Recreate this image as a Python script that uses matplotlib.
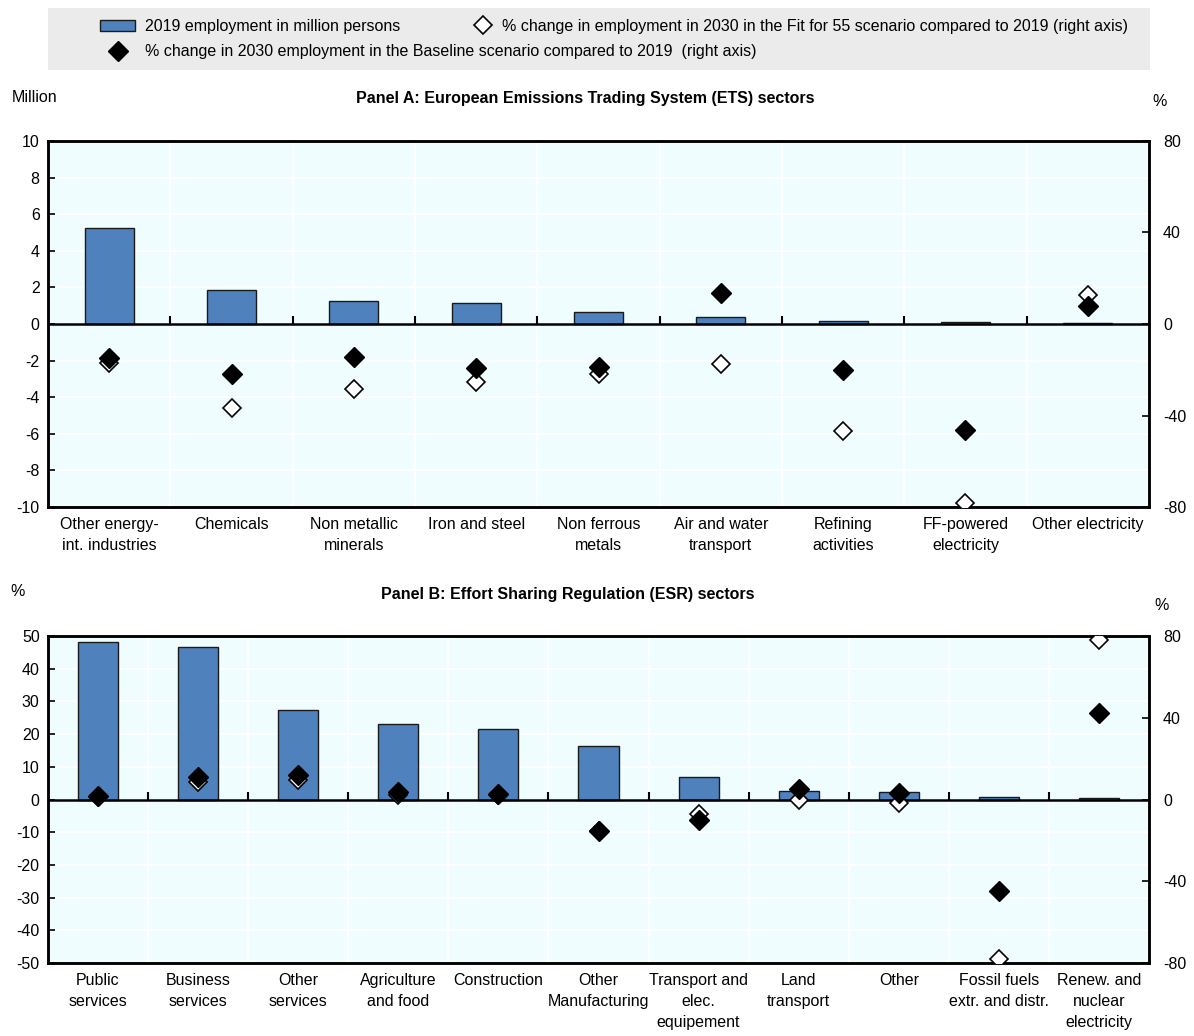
import matplotlib
matplotlib.use('Agg')
import matplotlib.pyplot as plt
from matplotlib.patches import Rectangle, Patch
from matplotlib.lines import Line2D
import numpy as np

# Panel A: ETS sectors
ets_sectors = ["Other energy-\nint. industries", "Chemicals", "Non metallic\nminerals", "Iron and steel",
               "Non ferrous\nmetals", "Air and water\ntransport", "Refining\nactivities",
               "FF-powered\nelectricity", "Other electricity"]
ets_employment = [5.27, 1.86, 1.26, 1.17, 0.64, 0.38, 0.15, 0.11, 0.05]
ets_fit55 = [-17.2, -36.6, -28.3, -25.5, -21.9, -17.5, -46.7, -78.1, 12.7]
ets_baseline = [-14.7, -21.8, -14.3, -19.4, -19.0, 13.7, -20.1, -46.3, 8.0]

# Panel B: ESR sectors
esr_sectors = ["Public\nservices", "Business\nservices", "Other\nservices", "Agriculture\nand food",
               "Construction", "Other\nManufacturing", "Transport and\nelec.\nequipement",
               "Land\ntransport", "Other", "Fossil fuels\nextr. and distr.", "Renew. and\nnuclear\nelectricity"]
esr_employment = [48.2, 46.6, 27.5, 23.1, 21.6, 16.4, 6.8, 2.5, 2.3, 0.9, 0.4]
esr_fit55 = [1.0, 8.8, 9.6, 2.3, 2.3, -15.3, -7.2, -0.2, -1.5, -78.0, 78.0]
esr_baseline = [1.5, 10.9, 12.0, 3.9, 2.6, -15.3, -9.9, 4.9, 3.1, -44.6, 42.3]

plt.rcParams['font.family'] = ['Liberation Sans', 'DejaVu Sans']
plt.rcParams['font.size'] = 11.5
plt.rcParams['axes.unicode_minus'] = False

bar_color = '#4F81BD'
bg_color = '#F0FDFF'
W, H = 1194, 1036
fig = plt.figure(figsize=(W / 100, H / 100), dpi=100)


def fbox(x0, y0, x1, y1):
    return [x0 / W, 1 - y1 / H, (x1 - x0) / W, (y1 - y0) / H]


def draw_panel(rect, labels, emp, fit, base, ylim, yticks, rticks):
    ax = fig.add_axes(rect)
    n = len(labels)
    x = np.arange(n)
    ax.set_facecolor(bg_color)
    ax.bar(x, emp, width=0.4, color=bar_color, edgecolor='#1a1a1a', linewidth=1, zorder=3)
    ax.set_xlim(-0.5, n - 0.5)
    ax.set_ylim(*ylim)
    ax.set_yticks(yticks)
    ax.set_xticks(x)
    ax.set_xticklabels(labels, linespacing=1.5)
    ax.tick_params(axis='x', length=0, pad=7)
    ax.tick_params(axis='y', direction='in', length=5, width=1.2, pad=6)
    for yv in yticks:
        ax.axhline(yv, color='white', linewidth=1.2, zorder=1)
    for b in np.arange(0.5, n - 0.5, 1):
        ax.axvline(b, color='white', linewidth=1.2, zorder=1)
    ax.axhline(0, color='black', linewidth=1.8, zorder=4)
    bounds = np.arange(0.5, n - 0.5, 1)
    ax.plot(bounds, np.zeros(len(bounds)), linestyle='none', marker=2, markersize=6,
            markeredgewidth=1.5, color='black', zorder=4)
    for s in ax.spines.values():
        s.set_linewidth(1.8)
        s.set_color('black')

    ax2 = ax.twinx()
    ax2.set_ylim(-80, 80)
    ax2.set_yticks(rticks)
    ax2.tick_params(axis='y', direction='in', length=5, width=1.2, pad=10)
    for s in ax2.spines.values():
        s.set_linewidth(1.8)
    ax2.plot(x, fit, linestyle='none', marker='D', markersize=9, markerfacecolor='white',
             markeredgecolor='black', markeredgewidth=1.2, zorder=5)
    ax2.plot(x, base, linestyle='none', marker='D', markersize=10, color='black', zorder=6)
    return ax, ax2


draw_panel(fbox(48, 141, 1149, 507), ets_sectors, ets_employment, ets_fit55, ets_baseline,
           (-10, 10), np.arange(-10, 11, 2), [-80, -40, 0, 40, 80])
draw_panel(fbox(48, 636, 1149, 963), esr_sectors, esr_employment, esr_fit55, esr_baseline,
           (-50, 50), np.arange(-50, 51, 10), [-80, -40, 0, 40, 80])

# Axis unit labels and panel titles
fig.text(12 / W, 1 - 98 / H, "Million", ha='left', va='center')
fig.text(1160 / W, 1 - 102 / H, "%", ha='center', va='center')
fig.text(18 / W, 1 - 591 / H, "%", ha='center', va='center')
fig.text(1162 / W, 1 - 605 / H, "%", ha='center', va='center')
fig.text(585 / W, 1 - 98 / H, "Panel A: European Emissions Trading System (ETS) sectors",
         ha='center', va='center', fontweight='bold')
fig.text(568 / W, 1 - 594 / H, "Panel B: Effort Sharing Regulation (ESR) sectors",
         ha='center', va='center', fontweight='bold')

# Legend
fig.patches.append(Rectangle((48 / W, 1 - 70 / H), (1150 - 48) / W, 62 / H,
                             transform=fig.transFigure, facecolor='#EBEBEB', edgecolor='none', zorder=0))
left_handles = [
    Patch(facecolor=bar_color, edgecolor='#1a1a1a', linewidth=1),
    Line2D([], [], linestyle='none', marker='D', markersize=10, color='black'),
]
left_texts = ["2019 employment in million persons",
              "% change in 2030 employment in the Baseline scenario compared to 2019  (right axis)"]
fig.legend(left_handles, left_texts, loc='upper left', bbox_to_anchor=(100 / W, 1 - 19 / H),
           frameon=False, handlelength=2.2, handletextpad=0.6, labelspacing=0.65,
           borderaxespad=0, borderpad=0)
right_handles = [Line2D([], [], linestyle='none', marker='D', markersize=9, markerfacecolor='white',
                        markeredgecolor='black', markeredgewidth=1.2)]
right_texts = ["% change in employment in 2030 in the Fit for 55 scenario compared to 2019 (right axis)"]
fig.legend(right_handles, right_texts, loc='upper left', bbox_to_anchor=(473 / W, 1 - 19 / H),
           frameon=False, handlelength=1.2, handletextpad=0.6, borderaxespad=0, borderpad=0)

fig.savefig('out.png', dpi=100)
